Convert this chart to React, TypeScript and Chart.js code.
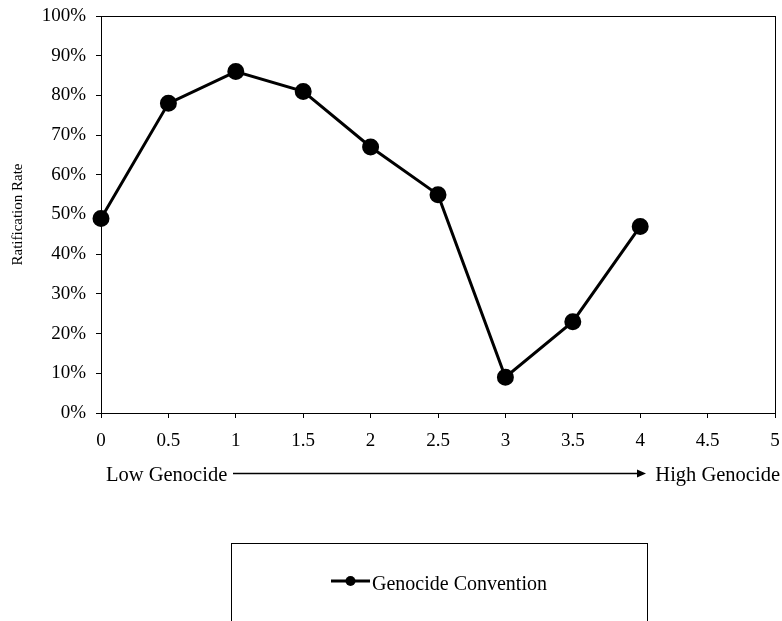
import React, { useEffect, useRef } from "react";
import { Chart, registerables } from "chart.js";

Chart.register(...registerables);

const xValues = [0, 0.5, 1, 1.5, 2, 2.5, 3, 3.5, 4];
const ratificationRates = [49, 78, 86, 81, 67, 55, 9, 23, 47];
const seriesLabel = "Genocide Convention";
const yAxisTitle = "Ratification Rate";
const lowLabel = "Low Genocide";
const highLabel = "High Genocide";

const FONT = "'Liberation Serif', 'Times New Roman', serif";

const decorPlugin = {
  id: "decor",
  afterDraw(chart: any) {
    const { ctx, chartArea } = chart;
    const { left, right, top, bottom } = chartArea;
    ctx.save();
    // frame
    ctx.strokeStyle = "#000";
    ctx.lineWidth = 1;
    ctx.strokeRect(left + 0.5, top + 0.5, right - left, bottom - top);

    // y-axis title
    ctx.save();
    ctx.translate(18, (top + bottom) / 2);
    ctx.rotate(-Math.PI / 2);
    ctx.fillStyle = "#000";
    ctx.font = `15px ${FONT}`;
    ctx.textAlign = "center";
    ctx.textBaseline = "middle";
    ctx.fillText(yAxisTitle, 0, 0);
    ctx.restore();

    // low / high labels and arrow
    ctx.font = `20.5px ${FONT}`;
    ctx.fillStyle = "#000";
    ctx.textBaseline = "alphabetic";
    ctx.textAlign = "left";
    ctx.fillText(lowLabel, 106, 481);
    ctx.textAlign = "right";
    ctx.fillText(highLabel, 780, 481);
    const ay = 473.5;
    ctx.beginPath();
    ctx.moveTo(233, ay);
    ctx.lineTo(640, ay);
    ctx.lineWidth = 1.5;
    ctx.stroke();
    ctx.beginPath();
    ctx.moveTo(646, ay);
    ctx.lineTo(637, ay - 4);
    ctx.lineTo(637, ay + 4);
    ctx.closePath();
    ctx.fill();

    // legend box
    ctx.lineWidth = 1;
    ctx.strokeStyle = "#000";
    ctx.strokeRect(231.5, 543.5, 416, 100);
    const ly = 581;
    ctx.beginPath();
    ctx.moveTo(331, ly);
    ctx.lineTo(370, ly);
    ctx.lineWidth = 3;
    ctx.stroke();
    ctx.beginPath();
    ctx.arc(350.5, ly, 5, 0, Math.PI * 2);
    ctx.fill();
    ctx.font = `20px ${FONT}`;
    ctx.textAlign = "left";
    ctx.textBaseline = "alphabetic";
    ctx.fillText(seriesLabel, 372, 590);
    ctx.restore();
  },
};

export default function App() {
  const ref = useRef<HTMLCanvasElement | null>(null);
  useEffect(() => {
    document.body.style.margin = "0";
    const canvas = ref.current!;
    const chart = new Chart(canvas, {
      type: "line",
      data: {
        datasets: [
          {
            label: seriesLabel,
            data: xValues.map((x, i) => ({ x, y: ratificationRates[i] })),
            borderColor: "#000",
            backgroundColor: "#000",
            borderWidth: 3,
            pointRadius: 7,
            pointHoverRadius: 7,
            pointBackgroundColor: "#000",
            pointBorderColor: "#000",
            tension: 0,
            clip: false,
          },
        ],
      },
      options: {
        animation: false,
        responsive: false,
        maintainAspectRatio: false,
        layout: { autoPadding: false, padding: { left: 0, top: 16, right: 7, bottom: 0 } },
        plugins: { legend: { display: false }, tooltip: { enabled: false } },
        scales: {
          x: {
            type: "linear",
            min: 0,
            max: 5,
            grid: { drawOnChartArea: false, drawTicks: true, tickLength: 5, color: "#000" },
            border: { display: true, color: "#000", width: 1 },
            ticks: {
              stepSize: 0.5,
              color: "#000",
              padding: 12,
              maxRotation: 0,
              font: { family: FONT, size: 19 },
              callback: (v: any) => String(v),
            },
            afterFit: (s: any) => {
              s.height = 208;
              s.paddingLeft = 0;
              s.paddingRight = 0;
            },
          },
          y: {
            min: 0,
            max: 100,
            grid: { drawOnChartArea: false, drawTicks: true, tickLength: 5, color: "#000" },
            border: { display: true, color: "#000", width: 1 },
            ticks: {
              stepSize: 10,
              color: "#000",
              padding: 10,
              font: { family: FONT, size: 19 },
              callback: (v: any) => v + "%",
            },
            afterFit: (s: any) => {
              s.width = 101;
              s.paddingTop = 0;
              s.paddingBottom = 0;
            },
          },
        },
      },
      plugins: [decorPlugin],
    });
    return () => chart.destroy();
  }, []);
  return <canvas ref={ref} width={782} height={621} style={{ display: "block" }} />;
}
